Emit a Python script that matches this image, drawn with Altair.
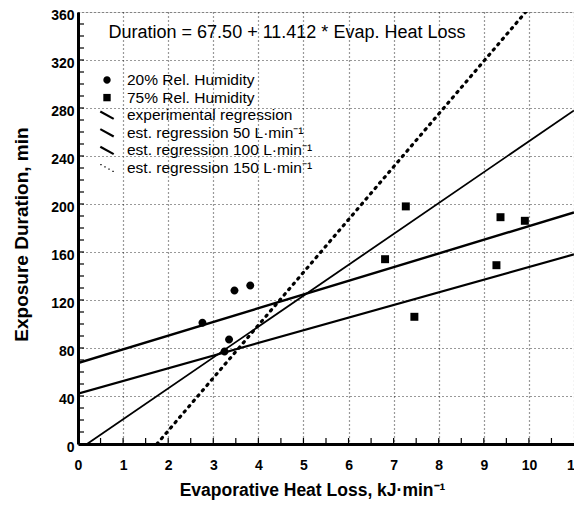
import altair as alt
import pandas as pd

# ---- data ----
rh20_x = [2.76, 3.47, 3.82, 3.35, 3.25]
rh20_y = [101, 128, 132, 87, 77]
rh75_x = [7.27, 9.37, 9.91, 6.81, 9.28, 7.46]
rh75_y = [198, 189, 186, 154, 149, 106]

series_names = [
    "20% Rel. Humidity",
    "75% Rel. Humidity",
    "experimental regression",
    "est. regression 50 L·min⁻¹",
    "est. regression 100 L·min⁻¹",
    "est. regression 150 L·min⁻¹",
]
# regression lines: endpoints (x0, y0) -> (x1, y1)
line_x0 = [0.0, 0.0, 0.2, 1.75]
line_y0 = [67.5, 42.0, 0.0, 0.0]
line_x1 = [11.0, 11.0, 11.0, 9.93]
line_y1 = [193.0, 158.0, 278.0, 360.0]

equation = "Duration = 67.50 + 11.412 * Evap. Heat Loss"
x_ticks = list(range(0, 12))
y_ticks = list(range(0, 361, 40))
y_minor = list(range(10, 360, 10))
x_minor = [i / 2 for i in range(1, 22)]

FONT = "Liberation Sans"
W, H = 496, 432

# ---- symbol paths (style) ----
circle_path = "M-0.55,0a0.55,0.55 0 1,0 1.1,0a0.55,0.55 0 1,0 -1.1,0"
square_path = "M-0.55,-0.55h1.1v1.1h-1.1z"
diag_path = "M-1,-0.55L1,0.55"
dots_path = " ".join(
    f"M{x - 0.1:.2f},{y - 0.1:.2f}h0.2v0.2h-0.2z"
    for x, y in [(-0.9, -0.5), (-0.3, -0.17), (0.3, 0.17), (0.9, 0.5)]
)

pts = pd.DataFrame(
    {"x": rh20_x + rh75_x,
     "y": rh20_y + rh75_y,
     "shape": [circle_path] * len(rh20_x) + [square_path] * len(rh75_x)}
)

rows = []
for i in range(4):
    rows.append({"name": series_names[i + 2], "x": line_x0[i], "y": line_y0[i], "o": 0})
    rows.append({"name": series_names[i + 2], "x": line_x1[i], "y": line_y1[i], "o": 1})
lines = pd.DataFrame(rows)

xs = alt.Scale(domain=[0, 11], nice=False, zero=False)
ys = alt.Scale(domain=[0, 360], nice=False, zero=False)

xax = alt.Axis(values=x_ticks, title="Evaporative Heat Loss, kJ·min⁻¹", grid=True,
               gridDash=[1, 3], gridColor="black", gridWidth=1.2, gridOpacity=0.8,
               domainColor="black", domainWidth=3, ticks=False, labelPadding=14,
               labelFont=FONT, labelFontSize=14, labelFontWeight="bold", labelColor="black",
               titleFont=FONT, titleFontSize=17.5, titleFontWeight="bold", titleColor="black",
               titlePadding=9, titleX=234, labelFlush=False)
yax = alt.Axis(values=y_ticks, title="Exposure Duration, min", grid=True,
               gridDash=[1, 3], gridColor="black", gridWidth=1.2, gridOpacity=0.8,
               domainColor="black", domainWidth=3, ticks=False, labelPadding=4,
               labelOffset=3,
               labelFont=FONT, labelFontSize=14, labelFontWeight="bold", labelColor="black",
               titleFont=FONT, titleFontSize=19, titleFontWeight="bold", titleColor="black",
               titlePadding=19, titleY=222, labelFlush=False)

base_x = alt.X("x:Q", scale=xs, axis=xax)
base_y = alt.Y("y:Q", scale=ys, axis=yax)

layers = []

# minor ticks (inward)
layers.append(
    alt.Chart(pd.DataFrame({"y": y_minor})).mark_tick(
        orient="horizontal", size=6, thickness=1.2, color="black", opacity=1)
    .encode(y=alt.Y("y:Q", scale=ys), x=alt.value(3))
)
layers.append(
    alt.Chart(pd.DataFrame({"x": x_minor})).mark_tick(
        orient="vertical", size=6, thickness=1.2, color="black", opacity=1)
    .encode(x=alt.X("x:Q", scale=xs), y=alt.value(H - 3))
)

styles = [
    (series_names[2], 2.4, None),
    (series_names[3], 2.2, None),
    (series_names[4], 1.8, None),
    (series_names[5], 3.2, [1.5, 5.5]),
]
for name, w, dash in styles:
    kw = dict(color="black", strokeWidth=w, clip=True)
    if dash:
        kw["strokeDash"] = dash
        kw["strokeCap"] = "round"
    layers.append(
        alt.Chart(lines).transform_filter(alt.datum.name == name)
        .mark_line(**kw)
        .encode(x=base_x, y=base_y, order="o:O")
    )

layers.append(
    alt.Chart(pts).mark_point(filled=True, color="black", opacity=1, size=210).encode(
        x=base_x, y=base_y, shape=alt.Shape("shape:N", scale=None, legend=None))
)

# ---- legend drawn inside the plot (layout in pixels) ----
leg_top, leg_step = 68, 17.6
leg = pd.DataFrame({
    "label": series_names,
    "py": [leg_top + i * leg_step for i in range(len(series_names))],
    "shape": [circle_path, square_path, diag_path, diag_path, diag_path, dots_path],
    "kind": ["fill", "fill", "line", "line", "line", "fill"],
})
layers.append(
    alt.Chart(leg).transform_filter(alt.datum.kind == "fill")
    .mark_point(filled=True, color="black", opacity=1, size=180)
    .encode(x=alt.value(29), y=alt.Y("py:Q", scale=None),
            shape=alt.Shape("shape:N", scale=None, legend=None))
)
layers.append(
    alt.Chart(leg).transform_filter(alt.datum.kind == "line")
    .mark_point(filled=False, color="black", opacity=1, size=180, strokeWidth=2.2)
    .encode(x=alt.value(29), y=alt.Y("py:Q", scale=None),
            shape=alt.Shape("shape:N", scale=None, legend=None))
)
layers.append(
    alt.Chart(leg).mark_text(font=FONT, fontSize=15.5, color="black", align="left",
                             baseline="middle")
    .encode(x=alt.value(49), y=alt.Y("py:Q", scale=None), text="label:N")
)

eq = alt.Chart(pd.DataFrame({"t": [equation]})).mark_text(
    font=FONT, fontSize=18, color="black", align="center", baseline="middle"
).encode(text="t:N", x=alt.value(209), y=alt.value(21))
layers.append(eq)

chart = alt.layer(*layers).properties(
    width=W, height=H,
    autosize=alt.AutoSizeParams(type="none"),
    padding={"left": 70, "top": 4, "right": 0, "bottom": 60},
).configure_view(stroke="black", strokeWidth=3).configure(background="white")

chart.save("out.html", embed_options={"renderer": "svg", "actions": False})
